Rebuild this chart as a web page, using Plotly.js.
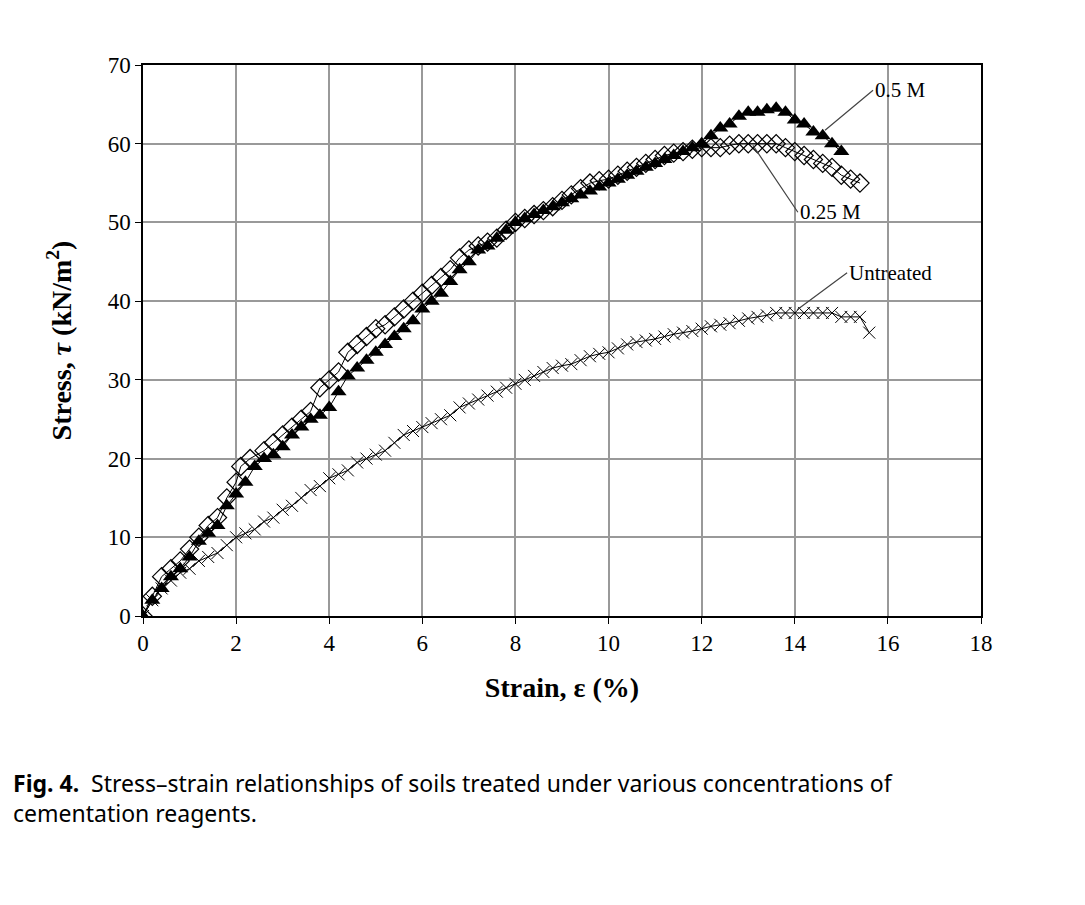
<!DOCTYPE html>
<html><head><meta charset="utf-8">
<script src="https://cdn.plot.ly/plotly-3.0.1.min.js"></script>
<style>body{margin:0;background:#fff}#c{width:1085px;height:905px}</style>
</head><body><div id="c"></div>
<script>
const strain05 = [0,0.2,0.4,0.6,0.8,1.0,1.2,1.4,1.6,1.8,2.0,2.2,2.4,2.6,2.8,3.0,3.2,3.4,3.6,3.8,4.0,4.2,4.4,4.6,4.8,5.0,5.2,5.4,5.6,5.8,6.0,6.2,6.4,6.6,6.8,7.0,7.2,7.4,7.6,7.8,8.0,8.2,8.4,8.6,8.8,9.0,9.2,9.4,9.6,9.8,10.0,10.2,10.4,10.6,10.8,11.0,11.2,11.4,11.6,11.8,12.0,12.2,12.4,12.6,12.8,13.0,13.2,13.4,13.6,13.8,14.0,14.2,14.4,14.6,14.8,15.0];
const stress05 = [0,2,3.5,5,6,7.5,9.5,10.5,11.5,14,15.5,17,19,20,20.5,21.5,23,24,25,25.5,26.5,28.5,30.5,31.5,32.5,33.5,34.5,35.5,36.5,37.5,39,40,41,42.5,44,45,46.5,47,48,49,50,50.5,51,51.5,52,52.5,53,53.5,54,54.5,55,55.5,56,56.5,57,57.5,58,58.5,59,59.5,60,61,62,62.5,63.5,64,64,64.3,64.5,64,63,62.5,61.5,61,60,59];
const strain025 = [0,0.2,0.4,0.6,0.8,1.0,1.2,1.4,1.6,1.8,2.0,2.1,2.3,2.6,2.8,3.0,3.2,3.4,3.6,3.8,4.0,4.2,4.4,4.6,4.8,5.0,5.2,5.4,5.6,5.8,6.0,6.2,6.4,6.6,6.8,7.0,7.2,7.4,7.6,7.8,8.0,8.2,8.4,8.6,8.8,9.0,9.2,9.4,9.6,9.8,10.0,10.2,10.4,10.6,10.8,11.0,11.2,11.4,11.6,11.8,12.0,12.2,12.4,12.6,12.8,13.0,13.2,13.4,13.6,13.8,14.0,14.2,14.4,14.6,14.8,15.0,15.2,15.4];
const stress025 = [0,2.5,5,6,7,8.5,10,11.5,12.5,15,17,19,20,21,22,23,24,25,26,29,30,31,33.5,34.5,35.5,36.5,37,38,39,40,41,42,43,44,45.5,46.5,47,47.5,48,49,50,50.5,51,51.5,52,52.8,53.5,54.3,55,55.3,55.5,56,56.5,57,57.5,58,58.5,58.8,59,59.3,59.5,59.5,59.5,59.8,60,60,60,60,60,59.5,59,58.5,58,57.5,57,56,55.5,55];
const strainU = [0,0.2,0.4,0.6,0.8,1.0,1.2,1.4,1.6,1.8,2.0,2.2,2.4,2.6,2.8,3.0,3.2,3.4,3.6,3.8,4.0,4.2,4.4,4.6,4.8,5.0,5.2,5.4,5.6,5.8,6.0,6.2,6.4,6.6,6.8,7.0,7.2,7.4,7.6,7.8,8.0,8.2,8.4,8.6,8.8,9.0,9.2,9.4,9.6,9.8,10.0,10.2,10.4,10.6,10.8,11.0,11.2,11.4,11.6,11.8,12.0,12.2,12.4,12.6,12.8,13.0,13.2,13.4,13.6,13.8,14.0,14.2,14.4,14.6,14.8,15.0,15.2,15.4,15.6];
const stressU = [0,2,3.5,4.5,5.5,6,7,7.5,8,9,10,10.5,11,12,12.5,13.5,14,15,16,16.5,17.5,18,18.5,19.5,20,20.5,21,22,23,23.5,24,24.5,25,25.5,26.5,27,27.5,28,28.5,29,29.5,30,30.5,31,31.5,31.8,32,32.5,33,33.3,33.5,34,34.5,34.8,35,35.2,35.5,35.8,36,36.2,36.5,36.8,37,37.2,37.5,37.8,38,38.2,38.5,38.5,38.5,38.5,38.5,38.5,38.5,38,38,38,36];
const labels = ['0.5 M','0.25 M','Untreated'];

const F = 'Liberation Serif, Times New Roman, serif';
const line = {color:'#000', width:1};
const traces = [
 {x:strainU, y:stressU, mode:'lines+markers', line:line, marker:{symbol:'x-thin', size:12, line:{color:'#000', width:1}}, name:labels[2]},
 {x:strain025, y:stress025, mode:'lines+markers', line:line, marker:{symbol:'diamond', size:14, color:'rgba(255,255,255,0)', line:{color:'#000', width:1.2}}, name:labels[1]},
 {x:strain05, y:stress05, mode:'lines+markers', line:line, marker:{symbol:'triangle-up', size:14, color:'#000'}, name:labels[0]}
];
const ax = {showgrid:true, gridcolor:'#999', gridwidth:1.5, zeroline:false,
  showline:true, mirror:true, linecolor:'#000', linewidth:1.5, ticks:'outside', ticklen:6, tickcolor:'#000',
  tickfont:{family:F, size:23, color:'#000'}};
const layout = {
 width:1085, height:905, showlegend:false,
 paper_bgcolor:'#fff', plot_bgcolor:'#fff',
 margin:{l:143, r:104, t:65, b:289},
 font:{family:F, size:22, color:'#000'},
 xaxis:Object.assign({range:[0,18], dtick:2, title:{text:'<b>Strain, ε (%)</b>', font:{family:F, size:28}, standoff:22}}, ax),
 yaxis:Object.assign({range:[0,70], dtick:10, title:{text:'<b>Stress, <i>τ</i> (kN/m<sup>2</sup>)</b>', font:{family:F, size:28}, standoff:28}}, ax),
 annotations:[
  {x:14.65, y:61.7, ax:48, ay:-40, text:labels[0], showarrow:true, arrowhead:0, arrowwidth:1.2, xanchor:'left', font:{family:F,size:21}},
  {x:13.1, y:59.8, ax:45, ay:67, text:labels[1], showarrow:true, arrowhead:0, arrowwidth:1.2, xanchor:'left', font:{family:F,size:21}},
  {x:14.05, y:38.9, ax:50, ay:-37, text:labels[2], showarrow:true, arrowhead:0, arrowwidth:1.2, xanchor:'left', font:{family:F,size:21}},
  {xref:'paper', yref:'paper', x:-0.158, y:-0.27, xanchor:'left', yanchor:'top', align:'left', showarrow:false,
   text:'<b>Fig. 4.</b>  Stress–strain relationships of soils treated under various concentrations of<br>cementation reagents.',
   font:{family:'Noto Sans, DejaVu Sans, sans-serif', size:23}}
 ]
};
Plotly.newPlot('c', traces, layout, {displayModeBar:false});
</script></body></html>
